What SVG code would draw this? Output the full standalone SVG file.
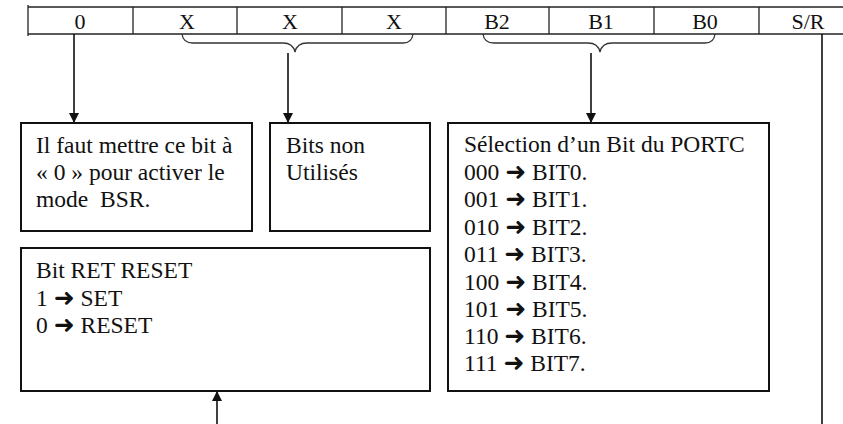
<svg xmlns="http://www.w3.org/2000/svg" width="843" height="424" viewBox="0 0 843 424" font-family="'Liberation Serif', serif">
  <style>
    text { font-family: 'Liberation Serif', serif; fill: #111; }
    .cell { font-size: 22px; text-anchor: middle; }
    .body { font-size: 23.5px; }
    .arr { font-family: 'DejaVu Sans', sans-serif; font-weight: bold; font-size: 25px; }
    .reg { stroke: #222; stroke-width: 1.3; fill: none; }
    .box { stroke: #111; stroke-width: 2; fill: #fff; }
    .wire { stroke: #111; stroke-width: 1.6; fill: none; }
    .brace { stroke: #333; stroke-width: 1.3; fill: none; }
  </style>
  <defs>
    <marker id="head" viewBox="0 0 10 10" refX="10" refY="5" markerWidth="10" markerHeight="11" markerUnits="userSpaceOnUse" orient="auto">
      <path d="M0,0 L10,5 L0,10 z" fill="#111"/>
    </marker>
  </defs>
  <rect width="843" height="424" fill="#fff"/>

  <!-- control word register -->
  <g id="register">
    <line class="reg" x1="28" y1="7" x2="843" y2="7"/>
    <line class="reg" x1="28" y1="34" x2="843" y2="34"/>
    <line class="reg" x1="28" y1="5" x2="28" y2="36"/>
    <line class="reg" x1="133" y1="7" x2="133" y2="34"/>
    <line class="reg" x1="237" y1="7" x2="237" y2="34"/>
    <line class="reg" x1="342" y1="7" x2="342" y2="34"/>
    <line class="reg" x1="446" y1="7" x2="446" y2="34"/>
    <line class="reg" x1="549" y1="7" x2="549" y2="34"/>
    <line class="reg" x1="654" y1="7" x2="654" y2="34"/>
    <line class="reg" x1="759" y1="7" x2="759" y2="34"/>
    <text class="cell" x="80" y="29">0</text>
    <text class="cell" x="187" y="29">X</text>
    <text class="cell" x="290" y="29">X</text>
    <text class="cell" x="394" y="29">X</text>
    <text class="cell" x="497" y="29">B2</text>
    <text class="cell" x="601" y="29">B1</text>
    <text class="cell" x="705" y="29">B0</text>
    <text class="cell" x="808" y="29">S/R</text>
  </g>

  <!-- braces grouping bits -->
  <g id="braces">
    <path class="brace" d="M182,34 Q183,43 193,43 L283,43 Q293,43 295,52 Q297,43 307,43 L403,43 Q412,43 413,34"/>
    <path class="brace" d="M483,34 Q484,43 494,43 L588,43 Q598,43 600,52 Q602,43 612,43 L705,43 Q714,43 715,34"/>
  </g>

  <!-- connectors -->
  <g id="connectors">
    <line class="wire" x1="74" y1="34" x2="74" y2="123" marker-end="url(#head)"/>
    <line class="wire" x1="288" y1="53" x2="288" y2="123" marker-end="url(#head)"/>
    <line class="wire" x1="591" y1="53" x2="591" y2="123" marker-end="url(#head)"/>
    <line class="wire" x1="822" y1="34" x2="822" y2="424"/>
    <line class="wire" x1="217" y1="424" x2="217" y2="391" stroke="#666" marker-end="url(#head)"/>
  </g>

  <g id="bsr-mode">
    <rect class="box" x="21" y="123" width="231" height="108"/>
    <text class="body" x="36" y="153">Il faut mettre ce bit à</text>
    <text class="body" x="36" y="180">« 0 » pour activer le</text>
    <text class="body" x="36" y="207" xml:space="preserve">mode  BSR.</text>
  </g>

  <g id="unused-bits">
    <rect class="box" x="270" y="123" width="160" height="108"/>
    <text class="body" x="286" y="153">Bits non</text>
    <text class="body" x="286" y="180">Utilisés</text>
  </g>

  <g id="set-reset">
    <rect class="box" x="21" y="248" width="409" height="143"/>
    <text class="body" x="36" y="278">Bit RET RESET</text>
    <text class="body" x="36" y="306">1 <tspan class="arr">➜</tspan> SET</text>
    <text class="body" x="36" y="333">0 <tspan class="arr">➜</tspan> RESET</text>
  </g>

  <g id="bit-select">
    <rect class="box" x="448" y="123" width="321" height="268"/>
    <text class="body" x="464" y="152">Sélection d’un Bit du PORTC</text>
    <text class="body" x="464" y="180">000 <tspan class="arr">➜</tspan> BIT0.</text>
    <text class="body" x="464" y="207">001 <tspan class="arr">➜</tspan> BIT1.</text>
    <text class="body" x="464" y="235">010 <tspan class="arr">➜</tspan> BIT2.</text>
    <text class="body" x="464" y="262">011 <tspan class="arr">➜</tspan> BIT3.</text>
    <text class="body" x="464" y="290">100 <tspan class="arr">➜</tspan> BIT4.</text>
    <text class="body" x="464" y="317">101 <tspan class="arr">➜</tspan> BIT5.</text>
    <text class="body" x="464" y="344">110 <tspan class="arr">➜</tspan> BIT6.</text>
    <text class="body" x="464" y="371">111 <tspan class="arr">➜</tspan> BIT7.</text>
  </g>
</svg>
